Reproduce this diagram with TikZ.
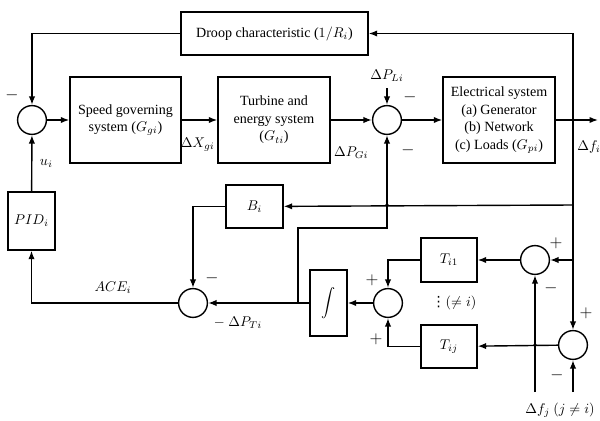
\documentclass[tikz,border=0pt]{standalone}
\usepackage{fontspec}
\setmainfont{Liberation Serif}
\newfontfamily\symfont{DejaVu Sans}
\usetikzlibrary{arrows.meta}

\begin{document}
\begin{tikzpicture}[x=0.025cm,y=-0.025cm,
    line width=1pt,
    >={Latex[length=6pt,width=4.5pt]},
    font=\fontsize{10}{12.5}\selectfont,
    block/.style={draw,align=center,inner sep=1pt},
    sumnode/.style={draw,circle,minimum size=0.72cm,inner sep=0pt},
    sgn/.style={inner sep=0pt,font=\large}]
\useasboundingbox (0,0) rectangle (600,421);
%Start with the blocks of the forward path, then the
% feedback blocks, and the tie-line part at the bottom right
\node[block,minimum width=4.675cm,minimum height=1.075cm] (droop) at (274.5,33.5) {Droop characteristic ($1/R_i$)};
\node[block,minimum width=2.775cm,minimum height=2.15cm] (speed) at (125.5,120) {Speed governing\\system ($G_{gi}$)};
\node[block,minimum width=2.8cm,minimum height=2.15cm] (turb) at (274,120) {Turbine and\\energy system\\($G_{ti}$)};
\node[block,minimum width=2.8cm,minimum height=2.15cm] (elec) at (499,120) {Electrical system\\(a) Generator\\(b) Network\\(c) Loads ($G_{pi}$)};
\node[block,minimum width=1.425cm,minimum height=1.075cm] (bi) at (254.5,206.5) {$B_i$};
\node[block,minimum width=1.175cm,minimum height=1.45cm] (pid) at (31.5,221) {$PID_i$};
\node[block,minimum width=0.925cm,minimum height=1.65cm] (int) at (328.5,303) {$\displaystyle\int$};
\node[block,minimum width=1.4cm,minimum height=1.1cm] (ti) at (449,260) {$T_{i1}$};
\node[block,minimum width=1.4cm,minimum height=1.075cm] (tj) at (449,346.5) {$T_{ij}$};
% summing points
\node[sumnode] (s1) at (32,120) {};
\node[sumnode] (s2) at (387,120) {};
\node[sumnode] (s3) at (193,303) {};
\node[sumnode] (s4) at (388,303) {};
\node[sumnode] (s5) at (535,260) {};
\node[sumnode] (s6) at (573,345) {};
% free ends and branch points
\coordinate (pl) at (387,88);
\coordinate (fo) at (598,120);
\coordinate (jf) at (573,120);
\coordinate (jb) at (573,205);
\coordinate (j5) at (573,260);
\coordinate (br) at (298,303);
\coordinate (bk) at (387,228);
\coordinate (fj) at (535,392);
\coordinate (fk) at (573,392);
% forward path
\draw[->] (s1) -- (speed);
\draw[->] (speed) -- (turb) node[pos=0.45,below=9pt]{$\Delta X_{gi}$};
\draw[->] (turb) -- (s2) node[pos=0.5,below=15pt]{$\Delta P_{Gi}$};
\draw[->] (pl) node[above=1pt]{$\Delta P_{Li}$} -- (s2);
\draw[->] (s2) -- (elec);
\draw[->] (elec) -- (fo);
\node (fil) at (589,147) {$\Delta f_i$};
% feedback paths
\draw[->] (jf) |- (droop);
\draw[->] (droop) -| (s1);
\draw[->] (jf) -- (s6);
\draw[->] (jb) -- (bi);
\draw[->] (bi) -| (s3);
\draw[->] (s3) -| (pid);
\draw[->] (pid) -- (s1) node[pos=0.5,right=2pt]{$u_i$};
\draw[->] (int) -- (s3);
\draw[->] (br) |- (bk) -- (s2);
\draw[->] (s4) -- (int);
\draw[->] (ti) -| (s4);
\draw[->] (tj) -| (s4);
\draw[->] (s5) -- (ti);
\draw[->] (s6) -- (tj);
\draw[->] (j5) -- (s5);
\draw[->] (fj) -- (s5);
\draw[->] (fk) -- (s6);
\fill (387,205) circle (1.3pt) (535,345) circle (1.3pt);
% signs and labels
\node[sgn] at (12,95) {$-$};
\node[sgn] at (410,97) {$-$};
\node[sgn] at (408,150) {$-$};
\node[sgn] at (212,278) {$-$};
\node[sgn] at (372,280) {$+$};
\node[sgn] at (376,339) {$+$};
\node[sgn] at (556,243) {$+$};
\node[sgn] at (551,288) {$-$};
\node[sgn] at (586,313) {$+$};
\node[sgn] at (557,375) {$-$};
\node (ace) at (113,288) {$ACE_i$};
\node (pt) at (238,323) {$-\ \Delta P_{Ti}$};
\node (ne) at (454,303) {{\symfont ⋮}$(\neq i)$};
\node (fjl) at (560,410) {$\Delta f_j\ (j\neq i)$};
\end{tikzpicture}
\end{document}
